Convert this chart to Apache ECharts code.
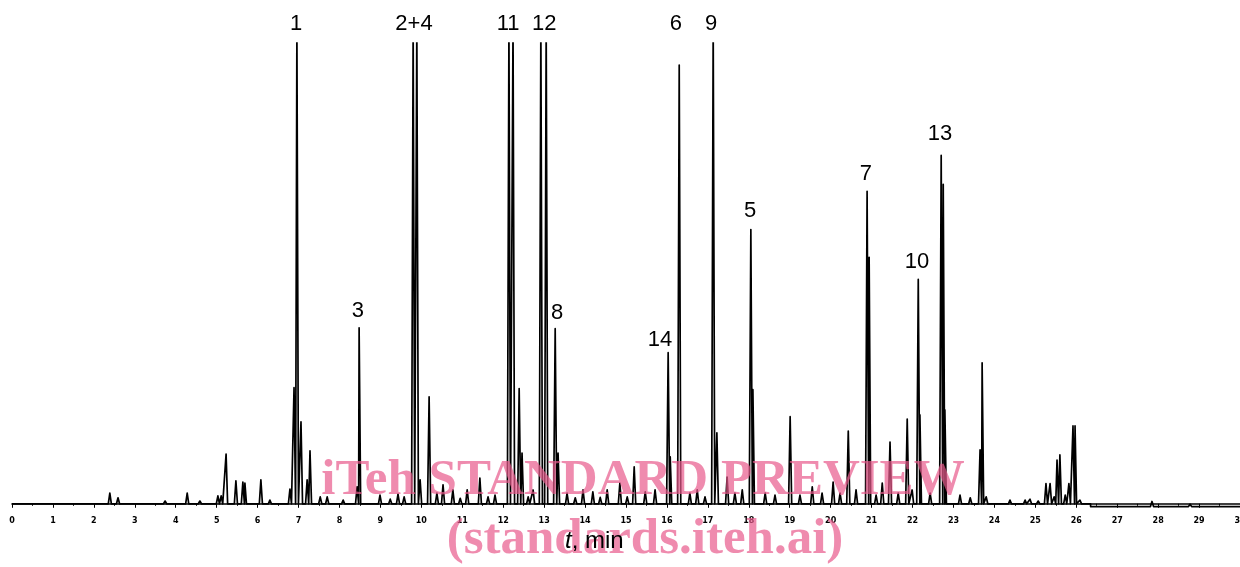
<!DOCTYPE html>
<html>
<head>
<meta charset="utf-8">
<script src="https://cdn.jsdelivr.net/npm/echarts@6/dist/echarts.min.js"></script>
<style>
html,body{margin:0;padding:0;background:#fff;overflow:hidden;}
#chart{width:1240px;height:567px;}
</style>
</head>
<body>
<div id="chart"></div>
<script>
// Retention times (min) and detector response (relative units, >100 = off scale)
var peakTimes = [2.39,2.59,3.74,4.28,4.59,5.03,5.11,5.23,5.47,5.64,5.69,6.08,6.30,6.79,6.89,6.96,7.06,7.21,7.28,7.53,7.70,8.09,8.43,8.48,8.99,9.24,9.43,9.58,9.80,9.89,9.97,10.19,10.38,10.53,10.77,10.95,11.12,11.43,11.63,11.80,12.14,12.24,12.39,12.46,12.61,12.73,12.92,13.05,13.27,13.34,13.56,13.76,13.95,14.19,14.37,14.54,14.85,15.03,15.20,15.47,15.71,16.03,16.08,16.30,16.56,16.74,16.93,17.13,17.22,17.47,17.66,17.84,18.05,18.10,18.40,18.64,19.01,19.25,19.55,19.79,20.06,20.23,20.43,20.62,20.89,20.94,21.11,21.26,21.45,21.65,21.87,21.99,22.14,22.18,22.43,22.70,22.75,22.79,23.16,23.41,23.65,23.70,23.80,24.38,24.75,24.87,25.07,25.26,25.36,25.46,25.53,25.60,25.73,25.82,25.92,25.97,26.09,27.85,28.24,28.78];
var peakHeights = [2.3,1.3,0.6,2.3,0.6,1.7,1.7,10.8,5.0,4.7,4.5,5.2,0.8,3.2,25.2,104,17.8,5.2,11.5,1.5,1.5,0.8,3.7,38.2,1.9,1.0,2.1,1.5,104,104,5.2,23.2,2.3,4.1,3.0,1.2,3.0,5.6,1.5,1.9,104,104,25.0,11.0,1.5,3.0,104,104,38.0,11.0,2.3,1.3,3.0,2.6,1.4,3.0,4.5,1.5,8.0,2.6,3.0,32.8,10.2,95.2,2.3,3.0,1.5,104,15.4,5.8,2.3,3.0,59.5,24.8,2.3,1.9,18.9,1.9,3.7,2.3,4.7,2.3,15.8,3.0,67.8,53.5,1.9,4.5,13.4,2.3,18.4,3.0,48.7,19.3,2.3,75.6,69.3,20.4,1.9,1.3,11.7,30.6,1.5,0.8,0.8,1.0,0.6,4.4,4.4,1.5,9.5,10.6,1.9,4.4,16.9,16.9,0.8,0.5,-0.2,-0.1];
// Baseline level steps: [start time, level]
var baseStepTimes = [0, 26.35];
var baseStepLevels = [0, -0.6];
// Peak labels
var labelNames = ['1','2+4','11','12','6','9','13','7','5','10','3','8','14'];
var labelTimes = [6.94,9.82,12.12,13.0,16.22,17.08,22.67,20.86,18.03,22.11,8.45,13.32,15.83];
var labelLevels = [104.1,104.1,104.1,104.1,104.1,104.1,80.2,71.5,63.5,52.4,41.9,41.5,35.6];
var axisMin = 0, axisMax = 30, axisInterval = 1;

function baseAt(t){
  var lv = baseStepLevels[0];
  for (var i=0;i<baseStepTimes.length;i++){ if (t >= baseStepTimes[i]) lv = baseStepLevels[i]; }
  return lv;
}
var halfW = 0.038;
var trace = [[axisMin, baseAt(axisMin)]];
var stepIdx = 1;
for (var i=0;i<peakTimes.length;i++){
  var t = peakTimes[i];
  while (stepIdx < baseStepTimes.length && baseStepTimes[stepIdx] < t){
    trace.push([baseStepTimes[stepIdx], baseStepLevels[stepIdx-1]]);
    trace.push([baseStepTimes[stepIdx], baseStepLevels[stepIdx]]);
    stepIdx++;
  }
  var b = baseAt(t);
  trace.push([t-halfW, b]);
  trace.push([t, peakHeights[i]]);
  trace.push([t+halfW, b]);
}
trace.push([axisMax, baseAt(axisMax)]);

var labelData = labelNames.map(function(n,i){ return {name:n, value:[labelTimes[i], labelLevels[i]]}; });

var chart = echarts.init(document.getElementById('chart'), null, {renderer:'canvas'});
chart.setOption({
  animation:false,
  backgroundColor:'#fff',
  grid:{left:12,right:0,top:43,bottom:54,containLabel:false,outerBoundsMode:'none'},
  xAxis:{
    type:'value',min:axisMin,max:axisMax,interval:axisInterval,
    axisLine:{lineStyle:{color:'#000',width:1.6}},
    axisTick:{show:true,length:4,lineStyle:{color:'#000',width:1}},
    minorTick:{show:true,splitNumber:2,length:2,lineStyle:{color:'#000'}},
    axisLabel:{color:'#000',fontSize:8,fontWeight:'bold',margin:4,fontFamily:'DejaVu Sans',hideOverlap:false},
    splitLine:{show:false}
  },
  yAxis:{type:'value',min:-2,max:100,show:false,splitLine:{show:false}},
  series:[
    {type:'line',data:trace,showSymbol:false,symbol:'none',clip:true,sampling:null,
     lineStyle:{color:'#000',width:1.7,join:'round'},z:2},
    {type:'scatter',data:labelData,symbolSize:1,clip:false,itemStyle:{color:'rgba(0,0,0,0)'},
     label:{show:true,position:'inside',formatter:'{b}',color:'#000',opacity:1,textBorderWidth:0,fontSize:22,fontFamily:'Liberation Sans'},
     emphasis:{disabled:true},z:3}
  ],
  graphic:[
    {type:'text',z:100,style:{x:643,y:481,text:'iTeh STANDARD PREVIEW',font:'bold 51px "Liberation Serif"',fill:'rgba(232,90,140,0.7)',textAlign:'center',textVerticalAlign:'middle'}},
    {type:'text',z:100,style:{x:645,y:540,text:'(standards.iteh.ai)',font:'bold 51px "Liberation Serif"',fill:'rgba(232,90,140,0.7)',textAlign:'center',textVerticalAlign:'middle'}},
    {type:'text',z:101,style:{x:565,y:541,text:'{i|t}, min',rich:{i:{fontStyle:'italic',fontSize:24,fontFamily:'Liberation Sans',fill:'#000'}},fontSize:24,fontFamily:'Liberation Sans',fill:'#000',textAlign:'left',textVerticalAlign:'middle'}}
  ]
});
</script>
</body>
</html>
